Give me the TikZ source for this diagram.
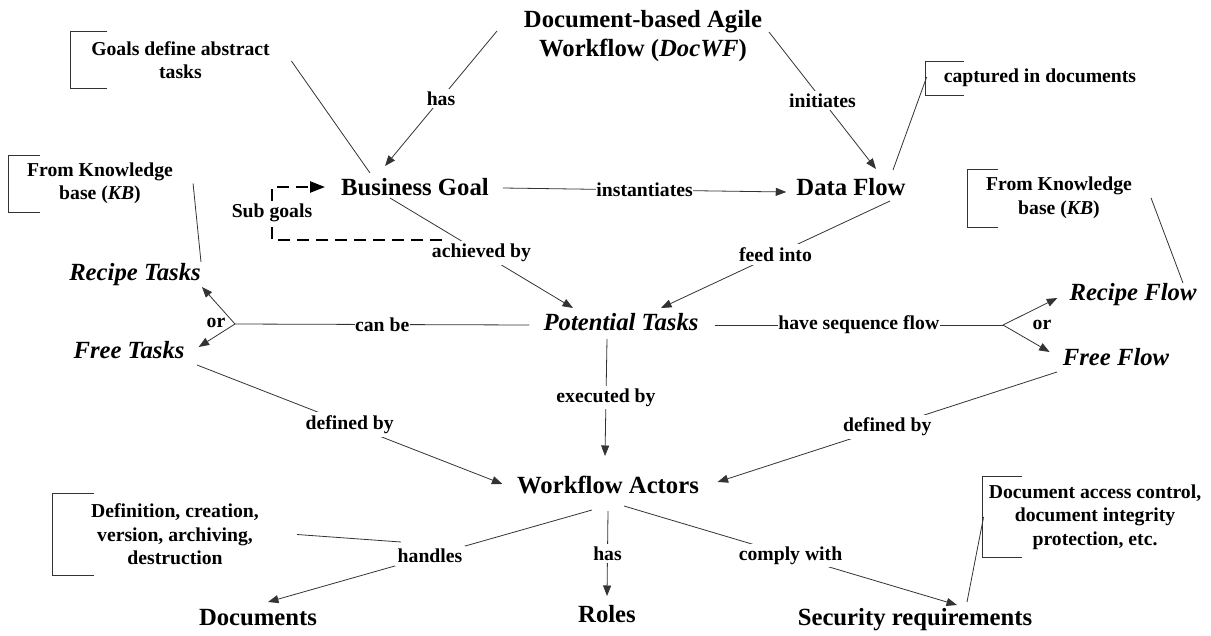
\documentclass[tikz,border=0pt]{standalone}
\usepackage{fontspec}
\setmainfont{Liberation Serif}
\usetikzlibrary{arrows.meta}

% bracket on the left of an annotation: node, gap to text, arm length, half height
\newcommand{\notebracket}[4]{%
  \draw[bracketline] ([shift={(#3-#2,-#4)}]#1.west) -- ++(-#3,0) -- ++(0,2*#4) -- ++(#3,0);}

\begin{document}
\begin{tikzpicture}[x=1pt,y=-1pt,
  mainnode/.style={font=\fontsize{24.7}{29}\selectfont\bfseries, inner sep=0pt, anchor=base, align=center},
  mainit/.style={mainnode, font=\fontsize{24.7}{29}\selectfont\bfseries\itshape},
  linklabel/.style={font=\fontsize{19.7}{23.5}\selectfont\bfseries},
  lbl/.style={linklabel, fill=white, inner sep=3pt},
  lblflat/.style={linklabel, fill=white, inner sep=0.5pt},
  notetext/.style={linklabel, align=center, inner sep=0pt},
  conn/.style={draw=black!80, line width=0.8pt},
  arr/.style={conn, -{Triangle[length=10.5pt,width=8pt]}},
  subloop/.style={draw=black, line width=2.4pt, dash pattern=on 12pt off 7pt,
                  -{Triangle[length=15pt,width=11pt]}},
  bracketline/.style={draw=black!80, line width=0.9pt},
]
\useasboundingbox (0,0) rectangle (1211,635);

% concepts
\node[mainnode, anchor=center] (title) at (643,36.5) {Document-based Agile\\Workflow (\textit{DocWF})};
\node[mainnode] (bgoal)  at (415,195) {Business Goal};
\node[mainnode] (dflow)  at (851,195) {Data Flow};
\node[mainit]   (ptasks) at (621,330) {Potential Tasks};
\node[mainit]   (rtasks) at (135,280) {Recipe Tasks};
\node[mainit]   (ftasks) at (129,358) {Free Tasks};
\node[mainit]   (rflow)  at (1133,300) {Recipe Flow};
\node[mainit]   (fflow)  at (1116,365) {Free Flow};
\node[mainnode] (actors) at (608,493) {Workflow Actors};
\node[mainnode] (docs)   at (258,625) {Documents};
\node[mainnode] (roles)  at (607,622) {Roles};
\node[mainnode] (secreq) at (915,625) {Security requirements};

% annotations
\node[notetext] (nGoals) at (180.5,60) {Goals define abstract\\tasks};
\node[notetext] (nKbL)   at (100,183.5) {From Knowledge\\base (\textit{KB})};
\node[notetext] (nCapt)  at (1040,78) {captured in documents};
\node[notetext] (nKbR)   at (1059,198) {From Knowledge\\base (\textit{KB})};
\node[notetext] (nLife)  at (175,534.5) {Definition, creation,\\version, archiving,\\destruction};
\node[notetext] (nSec)   at (1095,517) {Document access control,\\document integrity\\protection, etc.};

\notebracket{nGoals}{21}{37}{28.5}
\notebracket{nKbL}{18}{31}{28.5}
\notebracket{nCapt}{18}{38}{17}
\notebracket{nKbR}{18}{30}{29}
\notebracket{nLife}{39}{42}{41}
\notebracket{nSec}{6}{39}{40.5}

% relations
\draw[arr] ([shift={(-146,-5.5)}]title.center) -- node[lbl] {has} ([shift={(-30,-29)}]bgoal.base);
\draw[arr] ([shift={(126,-4.5)}]title.center) -- node[lbl] {initiates} ([shift={(25,-26)}]dflow.base);
\draw[arr] ([shift={(14,-7)}]bgoal.base east) -- node[lblflat] {instantiates} ([shift={(-10,-3)}]dflow.base west);
\draw[arr] ([shift={(-25,3)}]bgoal.base) -- node[lbl] {achieved by} ([shift={(-48,-22)}]ptasks.base);
\draw[arr] ([shift={(39,6)}]dflow.base) -- node[lbl] {feed into} ([shift={(40,-22)}]ptasks.base);

% sub goals loop
\draw[subloop] ([shift={(27,45)}]bgoal.base) -- ++(-170,0) |- ([shift={(-16,-8)}]bgoal.base west);
\node[linklabel, fill=white, inner sep=1pt] (lSub) at (272,213) {Sub goals};

% task alternatives
\coordinate (forkL) at (235,324);
\draw[conn] ([shift={(-14,-5)}]ptasks.base west) -- node[lblflat] {can be} (forkL);
\draw[arr] (forkL) -- ([shift={(1,7)}]rtasks.base east);
\draw[arr] (forkL) -- ([shift={(14,-11)}]ftasks.base east);
\node[linklabel, inner sep=0pt] (orL) at (216,323) {or};

% flow alternatives
\coordinate (forkR) at (1003,325);
\draw[conn] ([shift={(16,-5)}]ptasks.base east) -- node[lblflat] {have sequence flow} (forkR);
\draw[arr] (forkR) -- ([shift={(-12,-2)}]rflow.base west);
\draw[arr] (forkR) -- ([shift={(-13,-13)}]fflow.base west);
\node[linklabel, inner sep=0pt] (orR) at (1042,325) {or};

% actors
\draw[arr] ([shift={(-14,9)}]ptasks.base) -- node[lbl] {executed by} ([shift={(-3,-37)}]actors.base);
\draw[arr] ([shift={(68,7)}]ftasks.base) -- node[lbl] {defined by} ([shift={(-14.5,-9)}]actors.base west);
\draw[arr] ([shift={(-59,7)}]fflow.base) -- node[lbl] {defined by} ([shift={(18.5,-11)}]actors.base east);
\draw[arr] ([shift={(-16,17)}]actors.base) -- node[lbl] (lHandles) {handles} ([shift={(10,-23)}]docs.base);
\draw[arr] ([shift={(0,18)}]actors.base) -- node[lbl] {has} ([shift={(0,-26)}]roles.base);
\draw[arr] ([shift={(16,13)}]actors.base) -- node[lbl] {comply with} ([shift={(42,-20)}]secreq.base);

% annotation leaders
\draw[conn] ([shift={(21.5,1)}]nGoals.east) -- ([shift={(-45,-22)}]bgoal.base);
\draw[conn] ([shift={(20,0)}]nKbL.east) -- ([shift={(66,-18)}]rtasks.base);
\draw[conn] ([shift={(-17,-1)}]nCapt.west) -- ([shift={(42,-25)}]dflow.base);
\draw[conn] ([shift={(19,0)}]nKbR.east) -- ([shift={(50,-17)}]rflow.base);
\draw[conn] ([shift={(38,0)}]nLife.east) -- ([shift={(-29,-14)}]lHandles.center);
\draw[conn] ([shift={(-5,0)}]nSec.west) -- ([shift={(52,-23)}]secreq.base);
\end{tikzpicture}
\end{document}
